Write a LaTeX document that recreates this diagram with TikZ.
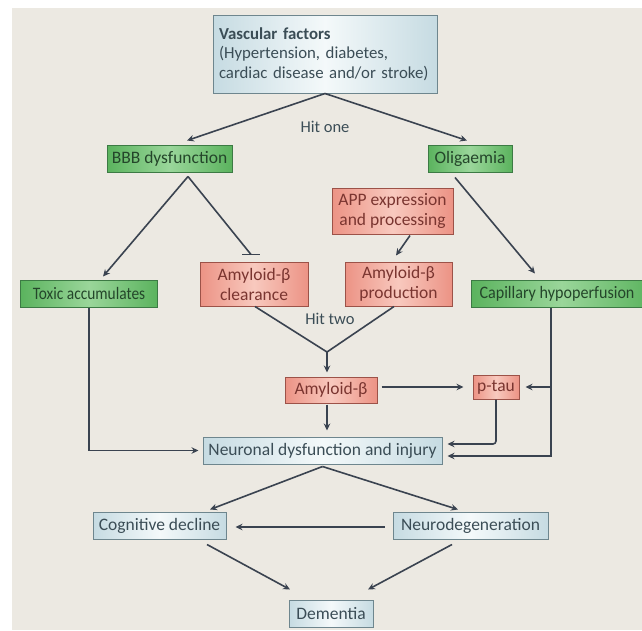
\documentclass[tikz,border=0pt]{standalone}
\usepackage{fontspec}
\setmainfont{Carlito}
\usetikzlibrary{positioning,arrows.meta}

\definecolor{bgbeige}{HTML}{ECE9E2}
\definecolor{grnfill}{HTML}{5BB35E}
\definecolor{grnlight}{HTML}{9AD69A}
\definecolor{grnline}{HTML}{3C7A44}
\definecolor{grntext}{HTML}{24462A}
\definecolor{redfill}{HTML}{EC9385}
\definecolor{redlight}{HTML}{F8C9BE}
\definecolor{redline}{HTML}{9C5248}
\definecolor{redtext}{HTML}{7A3530}
\definecolor{bluefill}{HTML}{C6DBE2}
\definecolor{bluelight}{HTML}{F4F9FA}
\definecolor{blueline}{HTML}{6E868E}
\definecolor{bluetext}{HTML}{3B4D56}
\definecolor{arrcol}{HTML}{3A4350}

\begin{document}
\begin{tikzpicture}[x=1pt, y=-1pt,
    every node/.style = { align = center, inner sep = 0pt, font = \fontsize{17.5}{20}\selectfont },
    box/.style = { draw, line width = 1pt, minimum height = 27pt },
    greenbox/.style = { box, draw = grnline, left color = grnfill, right color = grnfill, middle color = grnlight, text = grntext },
    redbox/.style = { box, draw = redline, left color = redfill, right color = redfill, middle color = redlight, text = redtext },
    bluebox/.style = { box, draw = blueline, left color = bluefill, right color = bluefill, middle color = bluelight, text = bluetext },
    hit/.style = { text = bluetext, font = \fontsize{16.5}{18}\selectfont },
    arr/.style = { draw = arrcol, line width = 1.6pt, -{Stealth[length = 7pt, width = 6.5pt]} },
    link/.style = { draw = arrcol, line width = 1.6pt }
  ]
  \clip (0,0) rectangle (642,630);
  \fill[bgbeige] (12,8) rectangle (642,630);

  % hit one
  \node (vasc) [bluebox, minimum width = 224pt, minimum height = 78pt, text width = 212pt, align = left,
    font = \fontsize{16.8}{19.5}\selectfont] at (325,54)
    {\textbf{Vascular factors}\\(Hypertension, diabetes,\\cardiac disease and/or stroke)\\[-4pt]};
  \node (hitone) [hit] at (325,127) {Hit one};
  \node (bbb) [greenbox, minimum width = 125pt] at (169.5,158.5) {BBB dysfunction};
  \node (olig) [greenbox, minimum width = 84pt] at (470,158.5) {Oligaemia};
  \node (app) [redbox, minimum width = 121pt, minimum height = 46pt] at (392.5,211) {APP expression\\and processing};

  % second row
  \node (toxic) [greenbox, minimum width = 137pt] at (89,293.5) {\scalebox{0.88}[1]{Toxic accumulates}};
  \node (clear) [redbox, minimum width = 108pt, minimum height = 44pt] at (254,284) {Amyloid-β\\clearance};
  \node (prod) [redbox, minimum width = 107pt, minimum height = 44pt] at (398.5,284) {Amyloid-β\\production};
  \node (capil) [greenbox, minimum width = 180pt, anchor = west] at (471,293.5) {\scalebox{0.92}[1]{Capillary hypoperfusion}\hspace{9pt}};
  \node (hittwo) [hit] at (330,319) {Hit two};

  % amyloid and tau
  \node (amyl) [redbox, minimum width = 92pt, minimum height = 26pt] at (331,390) {Amyloid-β};
  \node (ptau) [redbox, minimum width = 46pt, minimum height = 24pt] at (496,387) {p-tau};
  \node (neur) [bluebox, minimum width = 239pt] at (322.5,450.5) {Neuronal dysfunction and injury};

  % outcomes
  \node (cogn) [bluebox, minimum width = 133pt] at (159.5,525.5) {Cognitive decline};
  \node (neuro) [bluebox, minimum width = 155pt] at (470.5,525.5) {Neurodegeneration};
  \node (dem) [bluebox, minimum width = 84pt] at (331,613.5) {Dementia};

  \coordinate (meet) at (327,352);
  \coordinate (capx) at ([xshift = 80pt]capil.south west);
  \coordinate (clrbar) at ([xshift = -3pt, yshift = 7pt]clear.north);

  \draw[arr] (vasc.south) -- ([xshift = 17.5pt, yshift = 4pt]bbb.north);
  \draw[arr] (vasc.south) -- ([xshift = -3pt, yshift = 4pt]olig.north);
  \draw[arr] ([xshift = 18.5pt, yshift = -4pt]bbb.south) -- ([xshift = 14pt, yshift = 3pt]toxic.north);
  \draw[link] ([xshift = 18.5pt, yshift = -4pt]bbb.south) -- (clrbar);
  \draw[link] ([xshift = -9pt]clrbar) -- ([xshift = 9pt]clrbar);
  \draw[arr] ([xshift = -15pt, yshift = -5pt]olig.south) -- ([xshift = 64pt, yshift = 6pt]capil.north west);
  \draw[arr] ([xshift = 17.5pt, yshift = -1pt]app.south) -- ([xshift = -2.5pt, yshift = 6pt]prod.north);
  \draw[link] ([xshift = 1pt]clear.south) -- (meet) -- ([xshift = -4.5pt]prod.south);
  \draw[arr] (meet) -- ([yshift = 4pt]meet |- amyl.north);
  \draw[arr] ([xshift = 4pt]ptau.west -| amyl.east) -- ([xshift = -9pt]ptau.west);
  \draw[arr] (capx) |- ([xshift = 5pt, yshift = -5.5pt]neur.east);
  \draw[arr] (ptau.east -| capx) -- ([xshift = 6pt]ptau.east);
  \draw[arr, rounded corners = 3pt] (ptau.south) |- ([xshift = 5pt, yshift = 6.5pt]neur.east);
  \draw[arr] (toxic.south) |- ([xshift = -4pt]neur.west);
  \draw[arr] ([yshift = -1pt]meet |- amyl.south) -- ([yshift = 6pt]meet |- neur.north);
  \draw[arr] ([yshift = -2pt]neur.south) -- ([xshift = 50.5pt, yshift = 2pt]cogn.north);
  \draw[arr] ([yshift = -2pt]neur.south) -- ([xshift = -12.5pt, yshift = 2pt]neuro.north);
  \draw[arr] ([xshift = -8pt, yshift = -1.5pt]neuro.west) -- ([xshift = 9pt, yshift = -1.5pt]cogn.east);
  \draw[arr] ([xshift = 47.5pt, yshift = -5pt]cogn.south) -- ([xshift = -41pt, yshift = 10pt]dem.north);
  \draw[arr] ([xshift = -18.5pt, yshift = -5pt]neuro.south) -- ([xshift = 37pt, yshift = 10pt]dem.north);
\end{tikzpicture}
\end{document}
